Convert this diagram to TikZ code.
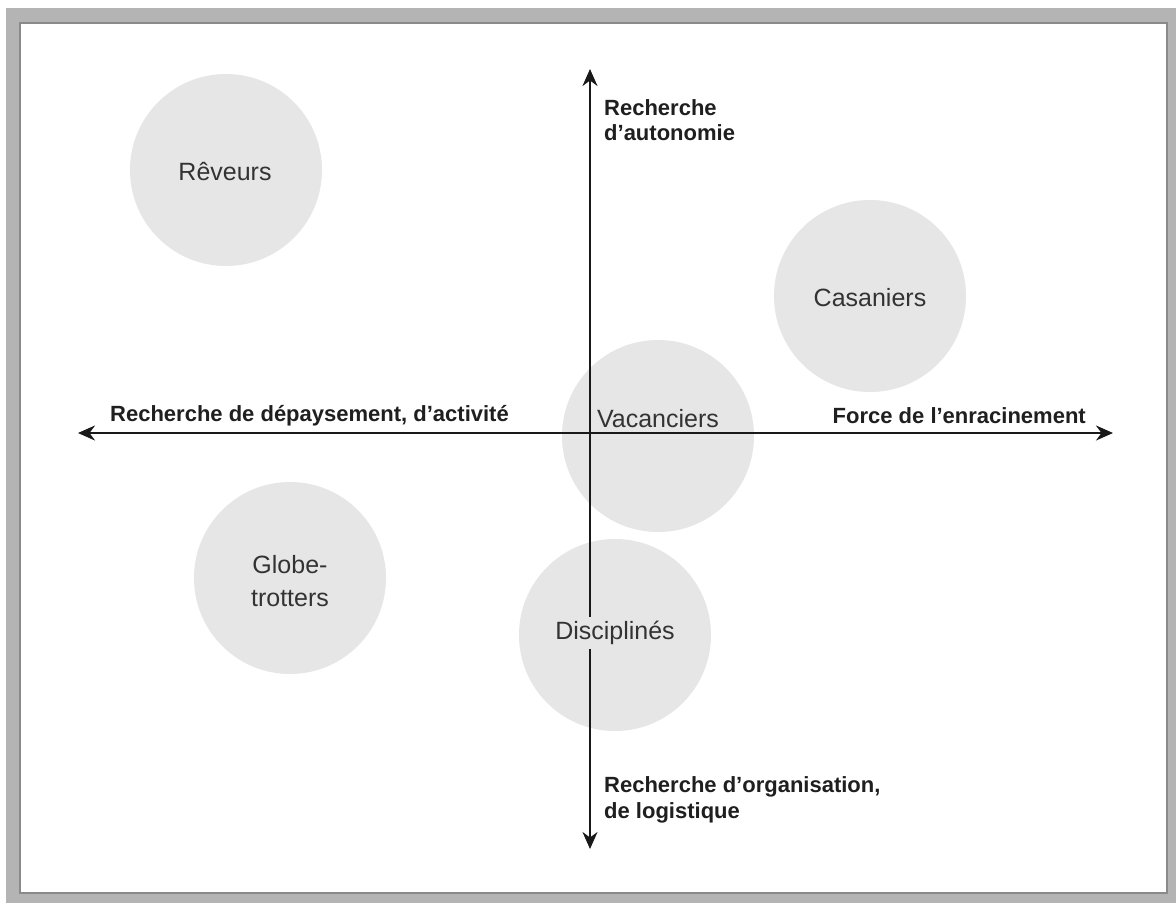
\documentclass[tikz,border=0pt]{standalone}
\usepackage{fontspec}
\setmainfont{Liberation Sans}
\usetikzlibrary{arrows.meta}
\definecolor{framegray}{HTML}{B4B4B4}
\definecolor{edgegray}{HTML}{8A8A8A}
\definecolor{blobgray}{HTML}{E6E6E6}
\definecolor{inkgray}{HTML}{333333}
\begin{document}
\begin{tikzpicture}[x=1pt,y=-1pt,
  blob/.style={circle, fill=blobgray, minimum size=192pt, inner sep=0pt},
  blobtext/.style={font=\fontsize{25}{33}\selectfont, text=inkgray, align=center, inner sep=0pt},
  axislabel/.style={font=\bfseries\fontsize{22}{25.5}\selectfont, text=black!88, align=left, inner sep=0pt},
  axis/.style={line width=2pt, draw=black!90, {Stealth[length=17pt,width=15pt]}-{Stealth[length=17pt,width=15pt]}}]
\useasboundingbox (0,0) rectangle (1176,903);
% frame
\fill[white] (0,0) rectangle (1176,903);
\fill[framegray] (6,8) rectangle (1176,903);
\filldraw[fill=white, draw=edgegray, line width=2pt] (20,23) rectangle (1167,893);

% segment circles
\node[blob] (reveurs) at (226,170) {};
\node[blob] (casaniers) at (870,296) {};
\node[blob] (vacanciers) at (658,436) {};
\node[blob] (globe) at (290,578) {};
\node[blob] (disciplines) at (615,635) {};

% axes
\coordinate (west) at (78,433);
\coordinate (east) at (1113,433);
\coordinate (north) at (590,69);
\coordinate (south) at (590,849);
\draw[axis] (west) -- (east);
\draw[axis] (north) -- (south);

% circle labels
\node[blobtext] (treveurs) at (225,172) {Rêveurs};
\node[blobtext] (tcasaniers) at (870,298) {Casaniers};
\node[blobtext] (tvacanciers) at (658,419) {Vacanciers};
\node[blobtext] (tglobe) at (290,581) {Globe-\\trotters};
\node[blobtext, fill=blobgray, inner ysep=4pt, inner xsep=1pt] (tdisciplines) at (615,633) {Disciplinés};

% axis labels
\node[axislabel, anchor=west] (lnorth) at (604,120) {Recherche\\d’autonomie};
\node[axislabel, anchor=west] (lwest) at (110,416) {Recherche de dépaysement, d’activité};
\node[axislabel, anchor=east] (least) at (1086,416) {Force de l’enracinement};
\node[axislabel, anchor=west] (lsouth) at (604,800) {Recherche d’organisation,\\de logistique};
\end{tikzpicture}
\end{document}
